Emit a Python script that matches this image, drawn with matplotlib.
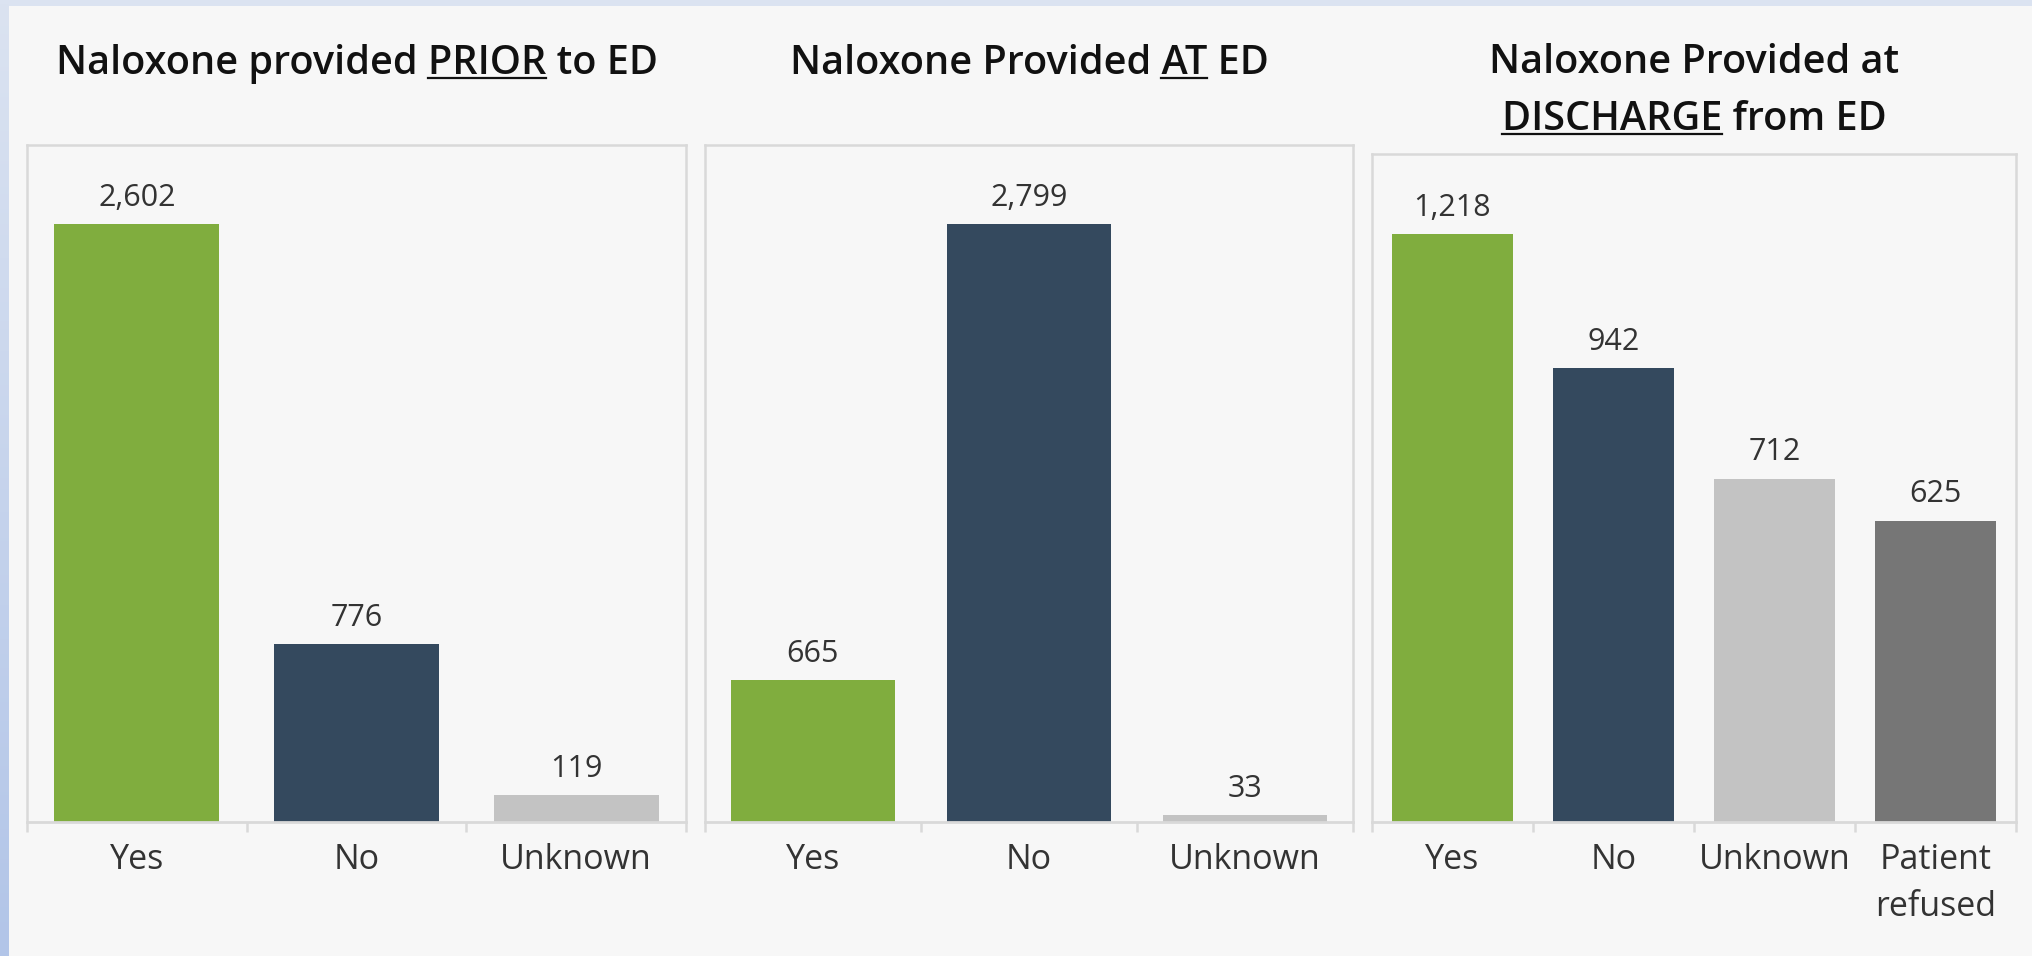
import matplotlib
matplotlib.use("Agg")
import matplotlib.pyplot as plt
import numpy as np
from matplotlib.font_manager import FontProperties
from matplotlib.colors import LinearSegmentedColormap

# ---- data -------------------------------------------------------------
prior_labels = ["Yes", "No", "Unknown"]
prior_values = [2602, 776, 119]

at_labels = ["Yes", "No", "Unknown"]
at_values = [665, 2799, 33]

discharge_labels = ["Yes", "No", "Unknown", "Patient\nrefused"]
discharge_values = [1218, 942, 712, 625]

# ---- style ------------------------------------------------------------
GREEN = "#80ad3e"
NAVY = "#34495e"
LIGHT_GRAY = "#c3c3c3"
DARK_GRAY = "#767676"
BG = "#f7f7f7"
FRAME = "#d9d9d9"
TEXT = "#333333"

W, H = 2033, 956
DPI = 100
FONT = "Open Sans"

fig = plt.figure(figsize=(W / DPI, H / DPI), dpi=DPI, facecolor=BG)

# light blue page border (top strip and left gradient strip)
top_ax = fig.add_axes([0, 1 - 6 / H, 1, 6 / H])
top_ax.set_axis_off()
top_ax.add_patch(plt.Rectangle((0, 0), 1, 1, color="#dbe3f1", transform=top_ax.transAxes))
left_ax = fig.add_axes([0, 0, 9 / W, 1])
left_ax.set_axis_off()
grad = np.linspace(0, 1, 256).reshape(-1, 1)
cmap = LinearSegmentedColormap.from_list("edge", ["#b2c5e8", "#dbe3f1"])
left_ax.imshow(grad, aspect="auto", cmap=cmap, origin="lower", extent=[0, 1, 0, 1])


def px_rect(x0, x1, ytop, ybot):
    return [x0 / W, 1 - ybot / H, (x1 - x0) / W, (ybot - ytop) / H]


def panel(rect, labels, values, colors, headroom, width):
    ax = fig.add_axes(rect)
    ax.set_facecolor(BG)
    x = np.arange(len(values))
    ax.bar(x, values, width=width, color=colors, zorder=2)
    ax.set_xlim(-0.5, len(values) - 0.5)
    ax.set_ylim(0, max(values) * headroom)
    for xi, v in zip(x, values):
        ax.annotate(f"{v:,}", (xi, v), xytext=(0, 8), textcoords="offset points",
                    ha="center", va="bottom", fontsize=22, color=TEXT, family=FONT)
    ax.set_xticks(x)
    ax.set_xticklabels(labels, fontsize=24.5, color=TEXT, family=FONT, linespacing=1.5)
    ax.tick_params(axis="x", which="major", length=0, pad=15)
    ax.set_xticks(np.arange(len(values) + 1) - 0.5, minor=True)
    ax.tick_params(axis="x", which="minor", length=7.5, width=1.8, color=FRAME, direction="out")
    ax.set_yticks([])
    for s in ax.spines.values():
        s.set_color(FRAME)
        s.set_linewidth(1.8)
    ax.spines["bottom"].set_linewidth(2)
    return ax


panel(px_rect(27, 686, 145, 822), prior_labels, prior_values,
      [GREEN, NAVY, LIGHT_GRAY], 1.1327, 0.75)
panel(px_rect(705, 1353, 145, 822), at_labels, at_values,
      [GREEN, NAVY, LIGHT_GRAY], 1.1327, 0.76)
panel(px_rect(1372, 2016, 154, 822), discharge_labels, discharge_values,
      [GREEN, NAVY, LIGHT_GRAY, DARK_GRAY], 1.137, 0.755)

# ---- titles with an underlined keyword ---------------------------------
title_fp = FontProperties(family=FONT, weight="semibold", size=28.5)
renderer = fig.canvas.get_renderer()


def text_width(s):
    t = fig.text(0, 0, s, fontproperties=title_fp)
    w = t.get_window_extent(renderer).width
    t.remove()
    return w


def title_line(xc, ybase, before, word, after):
    full = before + word + after
    t = fig.text(xc / W, 1 - ybase / H, full, ha="center", va="baseline",
                 fontproperties=title_fp, color="#111111")
    bb = t.get_window_extent(renderer)
    if word:
        end = text_width(before + word) if before else text_width(word)
        start = end - text_width(word)
        uy = 1 - (ybase + 4) / H
        fig.add_artist(plt.Line2D([(bb.x0 + start) / W, (bb.x0 + end) / W], [uy, uy],
                                  transform=fig.transFigure, color="#111111", lw=1.6))


title_line(357, 74, "Naloxone provided ", "PRIOR", " to ED")
title_line(1029, 74, "Naloxone Provided ", "AT", " ED")
title_line(1694, 73, "Naloxone Provided at", "", "")
title_line(1694, 130, "", "DISCHARGE", " from ED")

fig.savefig("out.png", dpi=DPI, facecolor=BG)
